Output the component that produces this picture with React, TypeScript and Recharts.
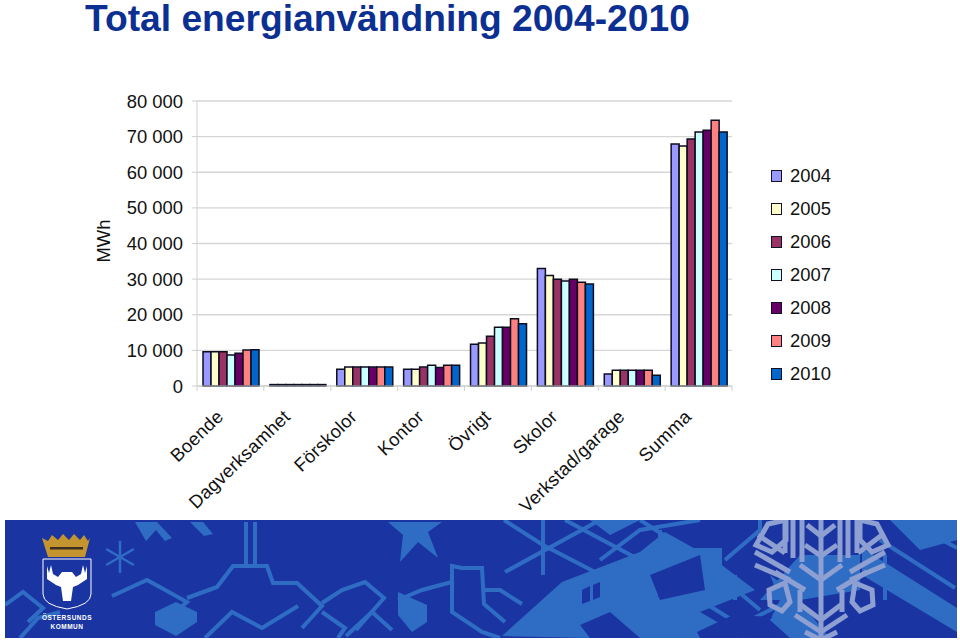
import { Bar, BarChart, CartesianGrid, Legend, XAxis, YAxis } from "recharts";

const categories = ["Boende", "Dagverksamhet", "Förskolor", "Kontor", "Övrigt", "Skolor", "Verkstad/garage", "Summa"];
const y2004 = [9600, 400, 4700, 4700, 11700, 33000, 3400, 67900];
const y2005 = [9600, 400, 5300, 4700, 12100, 31000, 4400, 67400];
const y2006 = [9600, 400, 5300, 5300, 14000, 30000, 4400, 69300];
const y2007 = [8700, 400, 5300, 5800, 16500, 29500, 4400, 71300];
const y2008 = [9200, 400, 5300, 5200, 16500, 30000, 4400, 71800];
const y2009 = [10100, 400, 5300, 5800, 18900, 29100, 4400, 74600];
const y2010 = [10200, 400, 5300, 5800, 17500, 28600, 3000, 71300];
const yTicks = [0, 10000, 20000, 30000, 40000, 50000, 60000, 70000, 80000];

const series = [
  { key: "2004", values: y2004, color: "#9999ff" },
  { key: "2005", values: y2005, color: "#ffffcc" },
  { key: "2006", values: y2006, color: "#993366" },
  { key: "2007", values: y2007, color: "#ccffff" },
  { key: "2008", values: y2008, color: "#660066" },
  { key: "2009", values: y2009, color: "#ff8080" },
  { key: "2010", values: y2010, color: "#0066cc" },
];

const data = categories.map((name, i) => {
  const row: Record<string, string | number> = { name };
  series.forEach((s) => (row[s.key] = s.values[i]));
  return row;
});

const font = "'Liberation Sans', Arial, sans-serif";
const axisColor = "#cfcfcf";
const fmt = (v: number) => (v === 0 ? "0" : `${Math.floor(v / 1000)} 000`);
const bandWidth = 535 / categories.length;

// ticks sit on the band edges in the original, labels run up to the right
function CategoryTick({ x, y, payload, index }: any) {
  return (
    <g>
      <line x1={x - bandWidth / 2} x2={x - bandWidth / 2} y1={386} y2={391} stroke={axisColor} />
      {index === categories.length - 1 && (
        <line x1={x + bandWidth / 2} x2={x + bandWidth / 2} y1={386} y2={391} stroke={axisColor} />
      )}
      <text
        transform={`translate(${x - 6},${y + 24}) rotate(-44)`}
        textAnchor="end"
        fontSize={18.4}
        letterSpacing={0.25}
        fontFamily={font}
        fill="#111"
      >
        {payload.value}
      </text>
    </g>
  );
}

function YearLegend() {
  return (
    <div style={{ fontFamily: font, fontSize: 18.4, color: "#111" }}>
      {series.map((s) => (
        <div key={s.key} style={{ height: 33, display: "flex", alignItems: "center" }}>
          <span
            style={{
              width: 9,
              height: 10,
              background: s.color,
              border: "1.5px solid #111122",
              marginRight: 8,
              display: "inline-block",
            }}
          />
          {s.key}
        </div>
      ))}
    </div>
  );
}

// decorative footer picture, not part of the data
const base = "#1a35a2";
const pale = "#2f6dc5";
const flake = "#8e9fd2";
const bandLines = [
  "5,605 23,592 43,608 28,622",
  "20,638 38,618 60,612",
  "112,596 147,580 187,602 168,618",
  "187,598 217,587 233,566 267,566 273,583 297,583 322,606 302,628",
  "205,638 232,612 262,628 298,606",
  "246,522 246,566",
  "255,522 255,566",
  "322,603 342,590 365,582 384,598 356,630",
  "346,636 372,612 392,630",
  "322,612 345,628 338,638",
  "398,600 422,590 452,582 452,566 462,568 482,568 484,604 505,622",
  "484,590 500,590 522,604",
  "452,582 452,612 482,632 500,638",
  "504,520 543,545 620,585",
  "543,520 543,575",
  "505,572 600,520",
  "565,520 640,560",
  "660,530 660,638",
  "735,575 735,600",
  "640,520 695,555 760,610",
  "880,540 955,588",
  "885,555 885,600",
  "905,520 957,548",
  "600,560 640,530 700,520",
  "725,560 760,530 760,520",
  "700,600 740,625 790,600",
];
const bandPolys = [
  "502,636 562,582 640,552 665,532 715,560 755,590 700,612 745,638 640,638 610,612 580,625 590,638",
  "155,612 176,602 197,612 197,622 176,636 155,625",
  "398,592 427,605 427,622 412,632 398,615",
  "388,522 442,522 428,532 438,558 418,542 400,562 403,535",
  "135,522 157,522 172,538 165,541 156,530 146,541",
  "190,522 203,522 213,534 204,536",
  "675,548 722,548 722,566 700,580 675,566",
  "770,575 780,600 770,620 790,638 830,638 790,590",
  "862,548 957,608 957,632 862,575",
  "890,520 957,520 957,540 920,550",
  "640,600 670,640 640,640",
  "590,520 640,520 610,535",
  "760,600 800,555 860,555 860,590 800,600",
];
const darkPolys = [
  "582,590 590,586 590,601 582,604",
  "593,585 600,582 600,597 593,600",
  "658,573 677,585 658,597",
  "697,632 733,615 773,617 743,638 700,638",
  "430,593 443,590 443,605 430,608",
  "650,575 700,555 705,590 660,600",
];
const flakeArms = [0, 60, 120, 180, 240, 300];
const flakeLines = [
  [785, 520, 785, 553], [793, 520, 793, 558], [802, 520, 802, 562],
  [840, 520, 840, 562], [848, 520, 848, 558], [857, 520, 857, 553],
  [755, 552, 790, 572], [755, 565, 790, 580], [758, 535, 785, 553],
  [885, 552, 850, 572], [885, 565, 850, 580], [882, 535, 858, 553],
  [821, 520, 821, 640], [807, 525, 821, 536], [835, 525, 821, 536],
  [805, 545, 821, 556], [837, 545, 821, 556],
  [800, 565, 821, 580], [842, 565, 821, 580],
  [775, 572, 805, 590], [867, 572, 837, 590],
  [800, 590, 800, 612], [842, 590, 842, 612],
  [795, 615, 821, 632], [847, 615, 821, 632],
  [800, 604, 821, 620], [842, 604, 821, 620],
  [805, 632, 821, 640], [837, 632, 821, 640],
];
const flakeHexes = [
  "768,524 786,520 786,540 772,552 756,545",
  "860,520 877,524 888,545 872,552 860,540",
  "769,590 785,583 790,602 782,611 770,605",
  "855,583 872,590 873,605 860,611 852,602",
];

function Banner() {
  return (
    <svg width={960} height={640} style={{ position: "absolute", left: 0, top: 0 }}>
      <rect x={5} y={520} width={952} height={118} fill={base} />
      <svg x={5} y={520} width={952} height={118} viewBox="5 520 952 118">
        <g fill="none" stroke={pale} strokeWidth={4}>
          {bandLines.map((p) => (
            <polyline key={p} points={p} />
          ))}
        </g>
        <g fill={pale}>
          {bandPolys.map((p) => (
            <polygon key={p} points={p} />
          ))}
        </g>
        <g fill={base}>
          {darkPolys.map((p) => (
            <polygon key={p} points={p} />
          ))}
        </g>
        <g stroke={pale} strokeWidth={2.5}>
          {flakeArms.map((a) => (
            <line key={a} x1={120} y1={557} x2={120} y2={541} transform={`rotate(${a} 120 557)`} />
          ))}
        </g>
        <g stroke={flake} strokeWidth={5} fill="none">
          {flakeLines.map((l, i) => (
            <line key={i} x1={l[0]} y1={l[1]} x2={l[2]} y2={l[3]} />
          ))}
          {flakeHexes.map((p) => (
            <polygon key={p} points={p} />
          ))}
        </g>
        {/* crest */}
        <polygon
          points="42,538 48,541 52,535 58,540 63,534 69,540 74,534 80,540 84,535 88,541 90,538 85,557 48,557"
          fill="#c4952f"
        />
        <rect x={50} y={547} width={33} height={2.5} fill="#3a2f20" />
        <path d="M43,559 H91 V594 Q91,605 67,609 Q43,605 43,594 Z" fill={base} stroke="#fff" strokeWidth={1} />
        <path
          d="M47,566 L49,573 L51,565 L53,574 L58,577 L62,572 L72,572 L76,577 L81,574 L83,565 L85,573 L87,566 L87,579 L78,585 L73,587 L71,601 L63,601 L61,587 L56,585 L47,579 Z"
          fill="#fff"
        />
        <text x={67} y={620} textAnchor="middle" fill="#fff" fontFamily={font} fontWeight="bold" fontSize={6.5} letterSpacing={0.5}>
          ÖSTERSUNDS
        </text>
        <text x={67} y={629} textAnchor="middle" fill="#fff" fontFamily={font} fontWeight="bold" fontSize={6.5} letterSpacing={0.5}>
          KOMMUN
        </text>
      </svg>
    </svg>
  );
}

export default function App() {
  return (
    <div style={{ position: "absolute", left: 0, top: 0, width: 960, height: 640, background: "#fff", overflow: "hidden" }}>
      <Banner />
      <div
        style={{
          position: "absolute",
          left: 85,
          top: 0,
          fontFamily: font,
          fontWeight: "bold",
          fontSize: 37.2,
          lineHeight: "37px",
          color: "#0c3092",
          whiteSpace: "nowrap",
        }}
      >
        Total energianvändning 2004-2010
      </div>
      <div
        style={{
          position: "absolute",
          left: 104,
          top: 241,
          fontFamily: font,
          fontSize: 18.4,
          color: "#111",
          transform: "translate(-50%,-50%) rotate(-90deg)",
        }}
      >
        MWh
      </div>
      <div style={{ position: "absolute", left: 0, top: 0 }}>
        <BarChart
          width={960}
          height={640}
          data={data}
          margin={{ top: 101, right: 228, bottom: 194, left: 137 }}
          barCategoryGap="9%"
          barGap={0}
        >
          <CartesianGrid vertical={false} stroke="#d6d6d6" strokeWidth={1.3} />
          <XAxis dataKey="name" height={60} interval={0} stroke={axisColor} tick={<CategoryTick />} tickLine={false} />
          <YAxis
            width={60}
            domain={[0, 80000]}
            ticks={yTicks}
            tickFormatter={fmt}
            stroke={axisColor}
            tick={{ fill: "#111", fontSize: 18.4, fontFamily: font }}
            tickSize={5}
            tickMargin={9}
          />
          <Legend
            layout="vertical"
            align="center"
            verticalAlign="middle"
            content={<YearLegend />}
            wrapperStyle={{ left: 771, top: 159, width: 80, bottom: "auto", right: "auto" }}
          />
          {series.map((s) => (
            <Bar key={s.key} dataKey={s.key} fill={s.color} stroke="#0d0d20" strokeWidth={1.5} isAnimationActive={false} />
          ))}
        </BarChart>
      </div>
    </div>
  );
}
